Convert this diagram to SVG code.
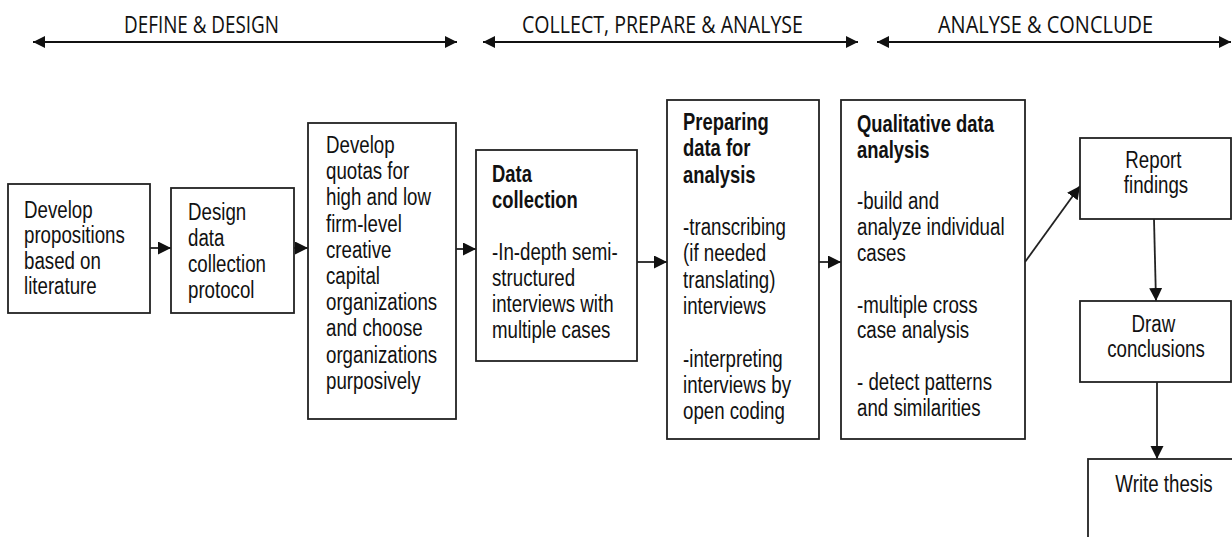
<svg xmlns="http://www.w3.org/2000/svg" width="1232" height="537" viewBox="0 0 1232 537">
  <style>
    .box { fill: #ffffff; stroke: #222222; stroke-width: 1.8; }
    .t { font-family: "Liberation Sans", Arial, sans-serif; font-size: 18.7px; fill: #111111; }
    .b { font-weight: bold; font-size: 18.4px; }
    .c { text-anchor: middle; }
    .h { font-family: "Open Sans", "Liberation Sans", sans-serif; font-size: 24px; fill: #111111; }
    .conn { stroke: #222222; stroke-width: 1.8; fill: none; marker-end: url(#arr); }
    .span { stroke: #111111; stroke-width: 2.2; fill: none; marker-end: url(#arr2); marker-start: url(#arr2); }
  </style>
  <defs>
    <marker id="arr" markerUnits="userSpaceOnUse" markerWidth="14" markerHeight="14" refX="13" refY="6.5" orient="auto">
      <path d="M0,0 L13,6.5 L0,13 z" fill="#111111"/>
    </marker>
    <marker id="arr2" markerUnits="userSpaceOnUse" markerWidth="14" markerHeight="14" refX="12" refY="6" orient="auto-start-reverse">
      <path d="M0,0 L12,6 L0,12 z" fill="#111111"/>
    </marker>
  </defs>
  <rect width="1232" height="537" fill="#ffffff"/>

  <g id="phases">
    <line class="span" x1="33" y1="42" x2="457" y2="42"/>
    <text class="h" x="124" y="33" textLength="155" lengthAdjust="spacingAndGlyphs">DEFINE &amp; DESIGN</text>
    <line class="span" x1="483" y1="42" x2="858" y2="42"/>
    <text class="h" x="522" y="33" textLength="281" lengthAdjust="spacingAndGlyphs">COLLECT, PREPARE &amp; ANALYSE</text>
    <line class="span" x1="877" y1="42" x2="1231" y2="42"/>
    <text class="h" x="938" y="33" textLength="215" lengthAdjust="spacingAndGlyphs">ANALYSE &amp; CONCLUDE</text>
  </g>

  <g id="connectors">
    <line class="conn" x1="150" y1="248" x2="171" y2="248"/>
    <line class="conn" x1="294" y1="248" x2="308" y2="248"/>
    <line class="conn" x1="456" y1="249" x2="476" y2="249"/>
    <line class="conn" x1="637" y1="262" x2="667" y2="262"/>
    <line class="conn" x1="819" y1="262" x2="841" y2="262"/>
    <line class="conn" x1="1025" y1="262" x2="1080" y2="186"/>
    <line class="conn" x1="1154" y1="219" x2="1156" y2="301"/>
    <line class="conn" x1="1157" y1="382" x2="1157" y2="459"/>
  </g>

  <g id="node-propositions">
    <rect class="box" x="8" y="184" width="142" height="129"/>
    <text class="t" transform="translate(24 218) scale(1 1.25)">
      <tspan x="0" y="0">Develop</tspan>
      <tspan x="0" y="20.4">propositions</tspan>
      <tspan x="0" y="40.8">based on</tspan>
      <tspan x="0" y="61.2">literature</tspan>
    </text>
  </g>

  <g id="node-protocol">
    <rect class="box" x="171" y="188" width="123" height="125"/>
    <text class="t" transform="translate(188 220) scale(1 1.25)">
      <tspan x="0" y="0">Design</tspan>
      <tspan x="0" y="20.8">data</tspan>
      <tspan x="0" y="41.6">collection</tspan>
      <tspan x="0" y="62.4">protocol</tspan>
    </text>
  </g>

  <g id="node-quotas">
    <rect class="box" x="308" y="123" width="148" height="296"/>
    <text class="t" transform="translate(326 153) scale(1 1.25)">
      <tspan x="0" y="0">Develop</tspan>
      <tspan x="0" y="20.96">quotas for</tspan>
      <tspan x="0" y="41.92">high and low</tspan>
      <tspan x="0" y="62.88">firm-level</tspan>
      <tspan x="0" y="83.84">creative</tspan>
      <tspan x="0" y="104.8">capital</tspan>
      <tspan x="0" y="125.76">organizations</tspan>
      <tspan x="0" y="146.72">and choose</tspan>
      <tspan x="0" y="167.68">organizations</tspan>
      <tspan x="0" y="188.64">purposively</tspan>
    </text>
  </g>

  <g id="node-collection">
    <rect class="box" x="476" y="150" width="161" height="211"/>
    <text class="t" transform="translate(492 182) scale(1 1.25)">
      <tspan x="0" y="0" class="b">Data</tspan>
      <tspan x="0" y="20.8" class="b">collection</tspan>
      <tspan x="0" y="62.4">-In-depth semi-</tspan>
      <tspan x="0" y="83.2">structured</tspan>
      <tspan x="0" y="104">interviews with</tspan>
      <tspan x="0" y="124.8">multiple cases</tspan>
    </text>
  </g>

  <g id="node-preparing">
    <rect class="box" x="667" y="100" width="152" height="339"/>
    <text class="t" transform="translate(683 130) scale(1 1.25)">
      <tspan x="0" y="0" class="b">Preparing</tspan>
      <tspan x="0" y="21.04" class="b">data for</tspan>
      <tspan x="0" y="42.08" class="b">analysis</tspan>
      <tspan x="0" y="84.16">-transcribing</tspan>
      <tspan x="0" y="105.2">(if needed</tspan>
      <tspan x="0" y="126.24">translating)</tspan>
      <tspan x="0" y="147.28">interviews</tspan>
      <tspan x="0" y="189.36">-interpreting</tspan>
      <tspan x="0" y="210.4">interviews by</tspan>
      <tspan x="0" y="231.44">open coding</tspan>
    </text>
  </g>

  <g id="node-qualitative">
    <rect class="box" x="841" y="100" width="184" height="339"/>
    <text class="t" transform="translate(857 132) scale(1 1.25)">
      <tspan x="0" y="0" class="b">Qualitative data</tspan>
      <tspan x="0" y="20.64" class="b">analysis</tspan>
      <tspan x="0" y="61.92">-build and</tspan>
      <tspan x="0" y="82.56">analyze individual</tspan>
      <tspan x="0" y="103.2">cases</tspan>
      <tspan x="0" y="144.48">-multiple cross</tspan>
      <tspan x="0" y="165.12">case analysis</tspan>
      <tspan x="0" y="206.4">- detect patterns</tspan>
      <tspan x="0" y="227.04">and similarities</tspan>
    </text>
  </g>

  <g id="node-report">
    <rect class="box" x="1080" y="138" width="151" height="81"/>
    <text class="t c" transform="translate(1156 168) scale(1 1.25)">
      <tspan x="0" y="0">Report</tspan>
      <tspan x="0" y="19.7">findings</tspan>
    </text>
  </g>

  <g id="node-conclusions">
    <rect class="box" x="1080" y="301" width="151" height="81"/>
    <text class="t c" transform="translate(1156 332) scale(1 1.25)">
      <tspan x="0" y="0">Draw</tspan>
      <tspan x="0" y="20">conclusions</tspan>
    </text>
  </g>

  <g id="node-thesis">
    <rect class="box" x="1088" y="459" width="160" height="100"/>
    <text class="t c" transform="translate(1164 492) scale(1 1.25)">
      <tspan x="0" y="0">Write thesis</tspan>
    </text>
  </g>
</svg>
